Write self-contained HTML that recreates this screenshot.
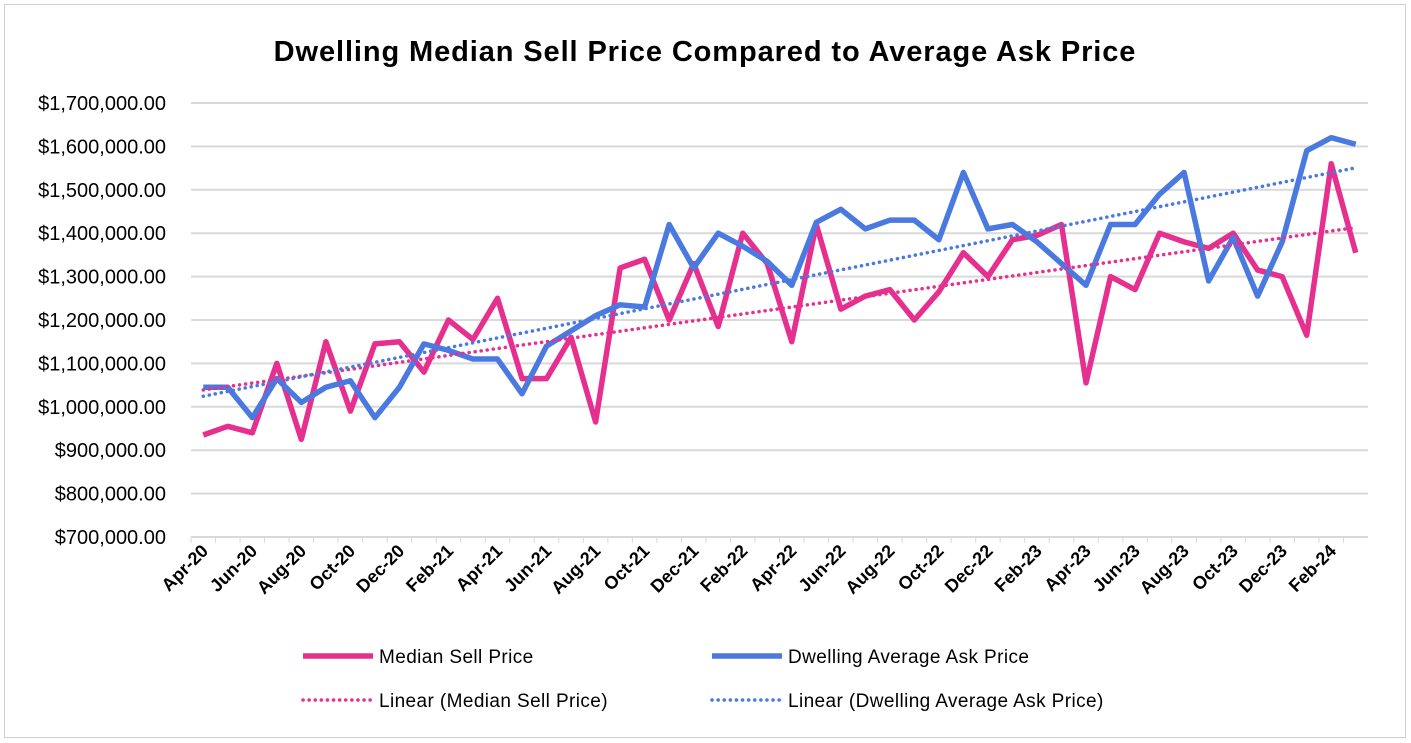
<!DOCTYPE html>
<html><head><meta charset="utf-8"><style>
body{margin:0;background:#fff;font-family:"Liberation Sans",sans-serif}
#wrap{position:relative;width:1411px;height:743px;overflow:hidden}
</style></head><body>
<div id="wrap">
<svg id="chart" width="1411" height="743">
<rect x="4.5" y="4.5" width="1401" height="733" fill="#fff" stroke="#d0d0d0"/>
<text x="705" y="61" text-anchor="middle" font-size="29" font-weight="bold" letter-spacing="0.9" fill="#000">Dwelling Median Sell Price Compared to Average Ask Price</text>
</svg>
</div>
<script>
const months=["Apr-20","May-20","Jun-20","Jul-20","Aug-20","Sep-20","Oct-20","Nov-20","Dec-20","Jan-21","Feb-21","Mar-21","Apr-21","May-21","Jun-21","Jul-21","Aug-21","Sep-21","Oct-21","Nov-21","Dec-21","Jan-22","Feb-22","Mar-22","Apr-22","May-22","Jun-22","Jul-22","Aug-22","Sep-22","Oct-22","Nov-22","Dec-22","Jan-23","Feb-23","Mar-23","Apr-23","May-23","Jun-23","Jul-23","Aug-23","Sep-23","Oct-23","Nov-23","Dec-23","Jan-24","Feb-24","Mar-24"];
const medianSell=[935,955,940,1100,925,1150,990,1145,1150,1080,1200,1155,1250,1065,1065,1160,965,1320,1340,1200,1330,1185,1400,1330,1150,1420,1225,1255,1270,1200,1265,1355,1300,1385,1395,1420,1055,1300,1270,1400,1380,1365,1400,1315,1300,1165,1560,1355];
const avgAsk=[1045,1045,975,1065,1010,1045,1060,975,1045,1145,1130,1110,1110,1030,1140,1175,1210,1235,1230,1420,1320,1400,1370,1335,1280,1425,1455,1410,1430,1430,1385,1540,1410,1420,1380,1330,1280,1420,1420,1490,1540,1290,1390,1255,1380,1590,1620,1605];
const yTicks=[700,800,900,1000,1100,1200,1300,1400,1500,1600,1700];
const NS="http://www.w3.org/2000/svg",svg=document.getElementById('chart');
const x0=191,x1=1368,yTop=103,yBot=537,yMin=700,yMax=1700;
const cw=(x1-x0)/months.length;
const X=i=>x0+cw*(i+0.5);
const Y=v=>yBot-(v-yMin)/(yMax-yMin)*(yBot-yTop);
function mk(t,a){const e=document.createElementNS(NS,t);for(const k in a)e.setAttribute(k,a[k]);svg.appendChild(e);return e;}
yTicks.forEach(v=>{
 const g=mk('line',{x1:x0,x2:x1,y1:Y(v),y2:Y(v),stroke:'#d9d9d9','stroke-width':2});
 
 
 const t=mk('text',{x:166,y:Y(v)+7,'text-anchor':'end','font-size':20,fill:'#000'});
 t.textContent='$'+(v*1000).toLocaleString('en-US')+'.00';
 
 
});
months.forEach((m,i)=>{
 const tk=mk('line',{x1:x0+cw*i,x2:x0+cw*i,y1:yBot,y2:yBot+6,stroke:'#d9d9d9','stroke-width':1});
 
 
 if(i%2==0){
  const t=mk('text',{x:X(i)+6,y:yBot+15,'text-anchor':'end','font-size':18,'font-weight':'bold',fill:'#000',transform:`rotate(-45 ${X(i)+6} ${yBot+15})`});
  t.textContent=m;
  
  
 }
});
function trend(arr){const n=arr.length;let sx=0,sy=0,sxy=0,sxx=0;arr.forEach((v,i)=>{sx+=i;sy+=v;sxy+=i*v;sxx+=i*i});const b=(n*sxy-sx*sy)/(n*sxx-sx*sx);const a=(sy-b*sx)/n;return[a,a+b*(n-1)];}
function series(arr,color,name){
 const p=mk('polyline',{points:arr.map((v,i)=>X(i)+','+Y(v)).join(' '),fill:'none',stroke:color,'stroke-width':5.5,'stroke-linejoin':'round'});
 
 
}
function trendLine(arr,color,name){
 const [a,b]=trend(arr);
 const l=mk('line',{x1:X(0),y1:Y(a),x2:X(arr.length-1),y2:Y(b),stroke:color,'stroke-width':3.5,'stroke-dasharray':'0.1 6','stroke-linecap':'round'});
 
 
}
series(medianSell,'#e6308f','median-sell-line');
series(avgAsk,'#4a7ae0','average-ask-line');
trendLine(medianSell,'#e6308f','median-trendline');
trendLine(avgAsk,'#4a7ae0','ask-trendline');
const ax=mk('line',{x1:x0,x2:x1,y1:yBot,y2:yBot,stroke:'#d9d9d9','stroke-width':2});


const leg=[[303,656,'#e6308f',false,'Median Sell Price','legend-median'],[712,656,'#4a7ae0',false,'Dwelling Average Ask Price','legend-ask'],[303,700,'#e6308f',true,'Linear (Median Sell Price)','legend-median-trend'],[712,700,'#4a7ae0',true,'Linear (Dwelling Average Ask Price)','legend-ask-trend']];
leg.forEach(([lx,ly,c,d,txt,nm])=>{
 const g=mk('g',{});
 
 
 const l=document.createElementNS(NS,'line');
 const at=d?{x1:lx,x2:lx+70,y1:ly,y2:ly,stroke:c,'stroke-width':3.5,'stroke-dasharray':'0.1 6','stroke-linecap':'round'}:{x1:lx,x2:lx+70,y1:ly,y2:ly,stroke:c,'stroke-width':5.5};
 for(const k in at)l.setAttribute(k,at[k]);g.appendChild(l);
 const t=document.createElementNS(NS,'text');t.setAttribute('x',lx+76);t.setAttribute('y',ly+7);t.setAttribute('font-size',19);t.setAttribute('letter-spacing','0.4');t.textContent=txt;g.appendChild(t);
});
</script>
</body></html>
